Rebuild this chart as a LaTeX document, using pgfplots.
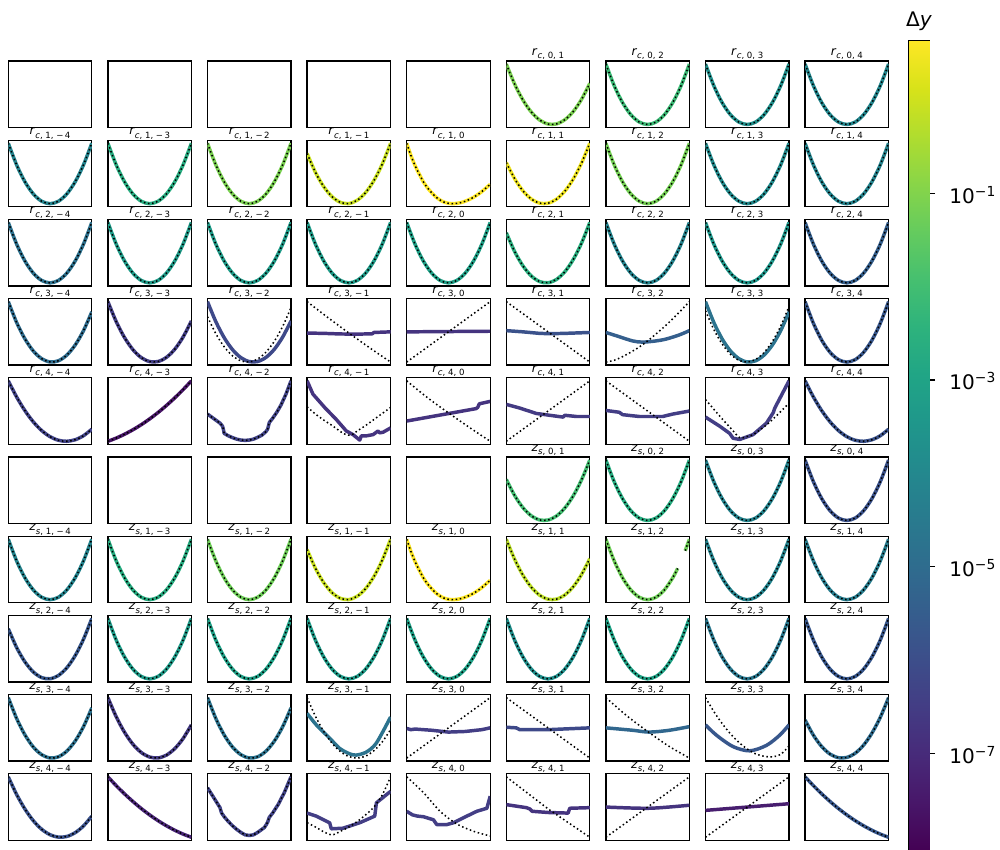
\documentclass[border=0pt]{standalone}
\usepackage{fontspec}
\setmainfont{DejaVu Sans}
\usepackage{pgfplots}
\usepackage{pgfplotstable}
\pgfplotsset{compat=1.18}
\pgfplotsset{colormap/viridis}

% grid geometry: 1 unit = 0.72bp, panels 83.5 x 66.5 units, pitch 99.6 x 79.2
\pgfplotsset{
  panel/.style 2 args={
    at={({(8.3+99.6*#1)*0.72bp},{(788-79.2*#2)*0.72bp})}, anchor=north west,
    width=60.12bp, height=47.88bp, scale only axis,
    xmin=0, xmax=1, ymin=-0.05, ymax=1.05,
    xtick=\empty, ytick=\empty,
    axis line style={line width=0.9bp},
    every axis title/.style={at={(0.5,1)}, anchor=base, yshift=3.9bp, inner sep=0pt,
      font=\fontsize{8.8}{9}\selectfont},
  },
  cv/.style={color of colormap={#1 of viridis}, line width=2.5bp, line join=round},
  dl/.style={black, line width=1.1bp, dash pattern=on 1.1bp off 1.9bp},
}

\newcommand{\rt}[2]{\textit{r}\raisebox{-0.27em}{\fontsize{6.2}{6}\selectfont\textit{c}, #1, #2}}
\newcommand{\zt}[2]{\textit{z}\raisebox{-0.27em}{\fontsize{6.2}{6}\selectfont\textit{s}, #1, #2}}
\newcommand{\dec}[1]{10\raisebox{0.36em}{\fontsize{10}{10}\selectfont −#1}}

% empty panel
\newcommand{\EE}[2]{\begin{axis}[panel={#1}{#2}]\end{axis}}
% fitted curve and reference curve from the same table
\newcommand{\PS}[5]{\begin{axis}[panel={#1}{#2}, title={#3}]
  \addplot[cv=#4, smooth] table {#5};
  \addplot[dl, smooth] table {#5};
\end{axis}}
% fitted curve and reference curve from two tables
\newcommand{\PD}[6]{\begin{axis}[panel={#1}{#2}, title={#3}]
  \addplot[cv=#4, smooth] table {#5};
  \addplot[dl, smooth] table {#6};
\end{axis}}

\pgfplotstableread{
x y
0 1
0.1 0.64
0.2 0.36
0.3 0.16
0.4 0.04
0.5 0
0.6 0.04
0.7 0.16
0.8 0.36
0.9 0.64
1 1
}\tS
\pgfplotstableread{
x y
0 1
0.1 0.64
0.2 0.36
0.3 0.16
0.4 0.04
0.5 0
0.6 0.04
0.7 0.16
0.8 0.36
0.86 0.518
0.9 nan
0.95 0.81
1 1
}\tSgap
\pgfplotstableread{
x y
0 1.0
0.1 0.668
0.2 0.403
0.3 0.205
0.4 0.073
0.5 0.008
0.6 0.009
0.7 0.077
0.8 0.211
0.9 0.413
1 0.680
}\tA
\pgfplotstableread{
x y
0 0.680
0.1 0.413
0.2 0.211
0.3 0.077
0.4 0.009
0.5 0.008
0.6 0.073
0.7 0.205
0.8 0.403
0.9 0.668
1 1.0
}\tAr
\pgfplotstableread{
x y
0 1.0
0.1 0.654
0.2 0.382
0.3 0.182
0.4 0.056
0.5 0.002
0.6 0.021
0.7 0.114
0.8 0.280
0.9 0.518
1 0.830
}\tB
\pgfplotstableread{
x y
0 0.830
0.1 0.518
0.2 0.280
0.3 0.114
0.4 0.021
0.5 0.002
0.6 0.056
0.7 0.182
0.8 0.382
0.9 0.654
1 1.0
}\tBr
\pgfplotstableread{
x y
0 1.0
0.1 0.682
0.2 0.425
0.3 0.228
0.4 0.092
0.5 0.017
0.6 0.002
0.7 0.048
0.8 0.155
0.9 0.322
1 0.550
}\tC
\pgfplotstableread{
x y
0 1.0
0.1 0.732
0.2 0.505
0.3 0.320
0.4 0.177
0.5 0.076
0.6 0.017
0.7 0.0
0.8 0.025
0.9 0.091
1 0.200
}\tD
\pgfplotstableread{
x y
0 1.0
0.1 0.707
0.2 0.465
0.3 0.273
0.4 0.132
0.5 0.042
0.6 0.002
0.7 0.013
0.8 0.075
0.9 0.187
1 0.350
}\tE
\pgfplotstableread{
x y
0 0.630
0.1 0.377
0.2 0.189
0.3 0.065
0.4 0.006
0.5 0.011
0.6 0.080
0.7 0.213
0.8 0.411
0.9 0.673
1 1.0
}\tF
\pgfplotstableread{
x y
0 0.750
0.1 0.469
0.2 0.253
0.3 0.103
0.4 0.020
0.5 0.002
0.6 0.050
0.7 0.164
0.8 0.343
0.9 0.589
1 0.900
}\tH
\pgfplotstableread{
x y
0 0.850
0.1 0.538
0.2 0.298
0.3 0.128
0.4 0.029
0.5 0.0
0.6 0.043
0.7 0.156
0.8 0.340
0.9 0.594
1 0.920
}\tI
\pgfplotstableread{
x y
0 1.0
0.05 0.8
0.1 0.63
0.15 0.49
0.2 0.36
0.25 0.26
0.3 0.18
0.35 0.11
0.4 0.06
0.45 0.025
0.5 0.006
0.55 0
0.6 0.005
0.65 0.018
0.7 0.04
0.75 0.07
0.8 0.105
0.85 0.15
0.9 0.2
0.95 0.26
1 0.32
}\tY
\pgfplotstableread{
x y
0 0
0.1 0.053
0.2 0.117
0.3 0.191
0.4 0.275
0.5 0.370
0.6 0.475
0.7 0.591
0.8 0.717
0.9 0.853
1 1
}\tM
\pgfplotstableread{
x y
0 1
0.1 0.853
0.2 0.717
0.3 0.591
0.4 0.475
0.5 0.370
0.6 0.275
0.7 0.191
0.8 0.117
0.9 0.053
1 0
}\tMr
\pgfplotstableread{
x y
0 1.0
0.1 0.691
0.2 0.439
0.3 0.244
0.4 0.106
0.5 0.025
0.6 0.0
0.7 0.032
0.8 0.122
0.9 0.268
1 0.471
}\tZ

\begin{document}
\begin{tikzpicture}
\path[use as bounding box] (0,0) rectangle (720bp,611.28bp);

% ---------------- r_c panels ----------------
\EE{0}{0}\EE{1}{0}\EE{2}{0}\EE{3}{0}\EE{4}{0}
\PS{5}{0}{\rt{0}{1}}{800}{\tA}
\PS{6}{0}{\rt{0}{2}}{680}{\tS}
\PS{7}{0}{\rt{0}{3}}{500}{\tS}
\PS{8}{0}{\rt{0}{4}}{460}{\tS}

\PS{0}{1}{\rt{1}{−\,4}}{450}{\tS}
\PS{1}{1}{\rt{1}{−\,3}}{620}{\tS}
\PS{2}{1}{\rt{1}{−\,2}}{800}{\tS}
\PS{3}{1}{\rt{1}{−\,1}}{920}{\tBr}
\PS{4}{1}{\rt{1}{0}}{1000}{\tY}
\PS{5}{1}{\rt{1}{1}}{980}{\tAr}
\PS{6}{1}{\rt{1}{2}}{790}{\tS}
\PS{7}{1}{\rt{1}{3}}{480}{\tS}
\PS{8}{1}{\rt{1}{4}}{450}{\tS}

\PS{0}{2}{\rt{2}{−\,4}}{370}{\tS}
\PS{1}{2}{\rt{2}{−\,3}}{550}{\tS}
\PS{2}{2}{\rt{2}{−\,2}}{550}{\tS}
\PS{3}{2}{\rt{2}{−\,1}}{550}{\tS}
\PS{4}{2}{\rt{2}{0}}{570}{\tS}
\PS{5}{2}{\rt{2}{1}}{630}{\tBr}
\PS{6}{2}{\rt{2}{2}}{450}{\tS}
\PS{7}{2}{\rt{2}{3}}{530}{\tS}
\PS{8}{2}{\rt{2}{4}}{300}{\tS}

\PS{0}{3}{\rt{3}{−\,4}}{350}{\tB}
\PS{1}{3}{\rt{3}{−\,3}}{180}{\tA}
\PD{2}{3}{\rt{3}{−\,2}}{220}{\tA}{\tH}
\begin{axis}[panel={3}{3}, title={\rt{3}{−\,1}}]
\addplot[cv=150] coordinates {(0,.48) (.2,.475) (.4,.465) (.6,.462) (.78,.468) (.8,.49) (1,.5)};
\addplot[dl] coordinates {(0,1) (.25,.735) (.5,.48) (.75,.235) (1,0)};
\end{axis}
\begin{axis}[panel={4}{3}, title={\rt{3}{0}}]
\addplot[cv=150] coordinates {(0,.5) (.5,.505) (1,.51)};
\addplot[dl] coordinates {(0,0) (1,1)};
\end{axis}
\begin{axis}[panel={5}{3}, title={\rt{3}{1}}]
\addplot[cv=250, smooth] coordinates {(0,.52) (.2,.5) (.4,.475) (.5,.47) (.7,.475) (1,.49)};
\addplot[dl] coordinates {(0,1) (1,0)};
\end{axis}
\begin{axis}[panel={6}{3}, title={\rt{3}{2}}]
\addplot[cv=300, smooth] coordinates {(0,.49) (.16,.42) (.32,.35) (.44,.33) (.6,.35) (.72,.38) (.88,.45) (1,.52)};
\addplot[dl, smooth] coordinates {(0,0) (.1,.03) (.2,.09) (.3,.165) (.4,.25) (.5,.35) (.6,.465) (.7,.585) (.8,.715) (.9,.855) (1,1)};
\end{axis}
\PD{7}{3}{\rt{3}{3}}{380}{\tB}{\tI}
\PS{8}{3}{\rt{3}{4}}{270}{\tS}

\PS{0}{4}{\rt{4}{−\,4}}{200}{\tD}
\PS{1}{4}{\rt{4}{−\,3}}{50}{\tM}
\begin{axis}[panel={2}{4}, title={\rt{4}{−\,2}}]
\addplot[cv=200] coordinates {(0,.45) (.05,.4) (.1,.35) (.15,.3) (.18,.25) (.19,.2) (.2,.13) (.25,.09) (.3,.06) (.35,.035) (.4,.02) (.45,.015) (.5,.02) (.55,.035) (.6,.065) (.65,.1) (.7,.16) (.72,.2) (.74,.31) (.78,.38) (.83,.48) (.88,.6) (.94,.78) (1,1)};
\addplot[dl] coordinates {(0,.45) (.05,.4) (.1,.35) (.15,.3) (.18,.25) (.19,.2) (.2,.13) (.25,.09) (.3,.06) (.35,.035) (.4,.02) (.45,.015) (.5,.02) (.55,.035) (.6,.065) (.65,.1) (.7,.16) (.72,.2) (.74,.31) (.78,.38) (.83,.48) (.88,.6) (.94,.78) (1,1)};
\end{axis}
\begin{axis}[panel={3}{4}, title={\rt{4}{−\,1}}]
\addplot[cv=150] coordinates {(0,1) (.07,.78) (.21,.56) (.35,.36) (.47,.17) (.55,.11) (.63,.02) (.65,.09) (.71,.09) (.79,.11) (.85,.17) (.87,.14) (.91,.15) (1,.22)};
\addplot[dl, smooth] coordinates {(0,.57) (.1,.45) (.2,.35) (.3,.26) (.4,.16) (.45,.12) (.5,.1) (.55,.12) (.6,.17) (.7,.26) (.8,.36) (.9,.46) (1,.56)};
\end{axis}
\begin{axis}[panel={4}{4}, title={\rt{4}{0}}]
\addplot[cv=150] coordinates {(0,.335) (.83,.54) (.85,.56) (.87,.62) (1,.66)};
\addplot[dl, smooth] coordinates {(0,1) (.25,.72) (.5,.47) (.75,.23) (1,0)};
\end{axis}
\begin{axis}[panel={5}{4}, title={\rt{4}{1}}]
\addplot[cv=170] coordinates {(0,.61) (.16,.55) (.36,.46) (.52,.43) (.68,.4) (.7,.43) (.84,.41) (1,.41)};
\addplot[dl] coordinates {(0,0) (1,1)};
\end{axis}
\begin{axis}[panel={6}{4}, title={\rt{4}{2}}]
\addplot[cv=180] coordinates {(0,.51) (.16,.48) (.2,.44) (.4,.41) (.68,.41) (.8,.45) (1,.5)};
\addplot[dl] coordinates {(0,1) (1,0)};
\end{axis}
\begin{axis}[panel={7}{4}, title={\rt{4}{3}}]
\addplot[cv=180] coordinates {(0,.4) (.17,.25) (.29,.13) (.33,.05) (.41,.03) (.57,.11) (.73,.3) (.81,.47) (.83,.55) (1,1)};
\addplot[dl, smooth] coordinates {(0,.69) (.1,.53) (.2,.37) (.3,.22) (.41,.06) (.5,.08) (.57,.11) (.73,.27) (.87,.45) (1,.63)};
\end{axis}
\PS{8}{4}{\rt{4}{4}}{250}{\tD}

% ---------------- z_s panels ----------------
\EE{0}{5}\EE{1}{5}\EE{2}{5}\EE{3}{5}\EE{4}{5}
\PS{5}{5}{\zt{0}{1}}{700}{\tAr}
\PS{6}{5}{\zt{0}{2}}{620}{\tS}
\PS{7}{5}{\zt{0}{3}}{450}{\tS}
\PS{8}{5}{\zt{0}{4}}{250}{\tS}

\PS{0}{6}{\zt{1}{−\,4}}{450}{\tS}
\PS{1}{6}{\zt{1}{−\,3}}{620}{\tS}
\PS{2}{6}{\zt{1}{−\,2}}{780}{\tS}
\PS{3}{6}{\zt{1}{−\,1}}{920}{\tBr}
\PS{4}{6}{\zt{1}{0}}{1000}{\tY}
\PS{5}{6}{\zt{1}{1}}{900}{\tA}
\begin{axis}[panel={6}{6}, title={\zt{1}{2}}, unbounded coords=jump]
\addplot[cv=780, smooth] table {\tSgap};
\addplot[dl, smooth] table {\tSgap};
\end{axis}
\PS{7}{6}{\zt{1}{3}}{450}{\tS}
\PS{8}{6}{\zt{1}{4}}{420}{\tS}

\PS{0}{7}{\zt{2}{−\,4}}{270}{\tBr}
\PS{1}{7}{\zt{2}{−\,3}}{550}{\tS}
\PS{2}{7}{\zt{2}{−\,2}}{570}{\tS}
\PS{3}{7}{\zt{2}{−\,1}}{550}{\tS}
\PS{4}{7}{\zt{2}{0}}{570}{\tS}
\PS{5}{7}{\zt{2}{1}}{500}{\tS}
\PS{6}{7}{\zt{2}{2}}{580}{\tS}
\PS{7}{7}{\zt{2}{3}}{400}{\tS}
\PS{8}{7}{\zt{2}{4}}{270}{\tS}

\PS{0}{8}{\zt{3}{−\,4}}{370}{\tB}
\PS{1}{8}{\zt{3}{−\,3}}{170}{\tC}
\PS{2}{8}{\zt{3}{−\,2}}{380}{\tB}
\begin{axis}[panel={3}{8}, title={\zt{3}{−\,1}}]
\addplot[cv=380, smooth] coordinates {(0,.74) (.11,.55) (.27,.33) (.39,.16) (.51,.07) (.59,.05) (.71,.1) (.83,.25) (1,.68)};
\addplot[dl, smooth] table {\tZ};
\end{axis}
\begin{axis}[panel={4}{8}, title={\zt{3}{0}}]
\addplot[cv=180] coordinates {(0,.49) (.05,.47) (.1,.48) (.3,.46) (.5,.43) (.7,.44) (.9,.47) (1,.5)};
\addplot[dl] coordinates {(0,0) (1,1)};
\end{axis}
\begin{axis}[panel={5}{8}, title={\zt{3}{1}}]
\addplot[cv=220] coordinates {(0,.51) (.12,.5) (.16,.47) (.5,.47) (1,.5)};
\addplot[dl] coordinates {(0,1) (1,0)};
\end{axis}
\begin{axis}[panel={6}{8}, title={\zt{3}{2}}]
\addplot[cv=330, smooth] coordinates {(0,.5) (.32,.46) (.52,.43) (.76,.46) (1,.52)};
\addplot[dl, smooth] coordinates {(0,1) (.25,.7) (.5,.44) (.75,.2) (1,0)};
\end{axis}
\begin{axis}[panel={7}{8}, title={\zt{3}{3}}]
\addplot[cv=270, smooth] coordinates {(0,.55) (.13,.38) (.33,.19) (.53,.12) (.73,.21) (.89,.38) (1,.55)};
\addplot[dl, smooth] coordinates {(0,1) (.1,.77) (.2,.57) (.3,.4) (.4,.26) (.5,.15) (.6,.07) (.7,.03) (.8,.02) (.9,.06) (1,.2)};
\end{axis}
\PS{8}{8}{\zt{3}{4}}{350}{\tF}

\PS{0}{9}{\zt{4}{−\,4}}{250}{\tE}
\PS{1}{9}{\zt{4}{−\,3}}{100}{\tMr}
\begin{axis}[panel={2}{9}, title={\zt{4}{−\,2}}]
\addplot[cv=200] coordinates {(0,.82) (.05,.71) (.1,.6) (.15,.49) (.16,.44) (.17,.4) (.2,.34) (.25,.26) (.3,.19) (.35,.13) (.4,.08) (.45,.04) (.5,.03) (.55,.04) (.6,.08) (.65,.13) (.68,.16) (.7,.2) (.72,.25) (.74,.33) (.78,.4) (.85,.55) (.92,.74) (1,1)};
\addplot[dl] coordinates {(0,.82) (.05,.71) (.1,.6) (.15,.49) (.16,.44) (.17,.4) (.2,.34) (.25,.26) (.3,.19) (.35,.13) (.4,.08) (.45,.04) (.5,.03) (.55,.04) (.6,.08) (.65,.13) (.68,.16) (.7,.2) (.72,.25) (.74,.33) (.78,.4) (.85,.55) (.92,.74) (1,1)};
\end{axis}
\begin{axis}[panel={3}{9}, title={\zt{4}{−\,1}}]
\addplot[cv=180] coordinates {(0,.4) (.11,.35) (.27,.24) (.29,.14) (.43,.15) (.63,.24) (.81,.35) (.83,.57) (1,.76)};
\addplot[dl, smooth] coordinates {(0,.24) (.1,.17) (.2,.09) (.3,.04) (.4,.1) (.5,.17) (.6,.26) (.7,.37) (.8,.5) (.9,.7) (1,1)};
\end{axis}
\begin{axis}[panel={4}{9}, title={\zt{4}{0}}]
\addplot[cv=180] coordinates {(0,.43) (.07,.37) (.13,.35) (.2,.34) (.32,.29) (.36,.21) (.48,.21) (.56,.24) (.72,.35) (.84,.43) (.96,.48) (1,.68)};
\addplot[dl, smooth] coordinates {(0,1) (.2,.74) (.4,.43) (.6,.22) (.8,.1) (1,.02)};
\end{axis}
\begin{axis}[panel={5}{9}, title={\zt{4}{1}}]
\addplot[cv=150] coordinates {(0,.54) (.24,.49) (.28,.47) (.31,.43) (.5,.41) (.74,.4) (.76,.48) (1,.49)};
\addplot[dl] coordinates {(0,1) (.5,.47) (1,0)};
\end{axis}
\begin{axis}[panel={6}{9}, title={\zt{4}{2}}]
\addplot[cv=150, smooth] coordinates {(0,.5) (.52,.48) (1,.53)};
\addplot[dl] coordinates {(0,0) (1,1)};
\end{axis}
\begin{axis}[panel={7}{9}, title={\zt{4}{3}}]
\addplot[cv=80] coordinates {(0,.445) (1,.555)};
\addplot[dl] coordinates {(0,0) (1,1)};
\end{axis}
\PS{8}{9}{\zt{4}{4}}{270}{\tMr}

% ---------------- colour bar ----------------
\begin{axis}[at={(654.12bp,581.76bp)}, anchor=north west,
  width=14.98bp, height=582.12bp, scale only axis,
  xmin=0, xmax=1, ymin=-8.03, ymax=0.632,
  xtick=\empty, ytick={-7,-5,-3,-1},
  yticklabels={\dec{7},\dec{5},\dec{3},\dec{1}},
  ytick pos=right, yticklabel pos=right, tick align=outside,
  major tick length=4.1bp, tick style={line width=0.8bp, black},
  axis line style={line width=0.9bp},
  yticklabel style={anchor=base west, inner sep=0pt, xshift=10.2bp, yshift=-7.2bp,
    font=\fontsize{14.5}{16}\selectfont},
  colormap name=viridis, point meta min=-8.03, point meta max=0.632]
\addplot[surf, shader=interp, mesh/cols=2, point meta=y] coordinates {(0,-8.03) (1,-8.03) (0,0.632) (1,0.632)};
\end{axis}
\node[anchor=base, font=\fontsize{14.5}{16}\selectfont, inner sep=0pt] at (661.7bp,592.1bp) {Δ\textit{y}};
\end{tikzpicture}
\end{document}
